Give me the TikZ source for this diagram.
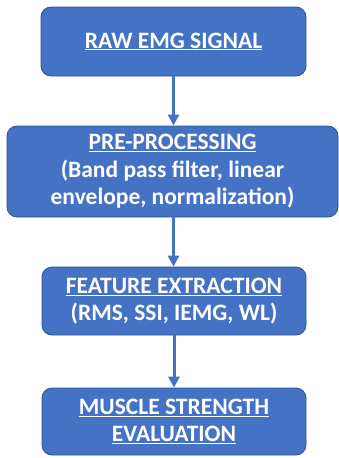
\documentclass[tikz,border=0pt]{standalone}
\usepackage{fontspec}
\setmainfont{Carlito}
\usetikzlibrary{arrows.meta}

\definecolor{boxblue}{HTML}{4472C4}
\definecolor{boxedge}{HTML}{2F528F}

\tikzstyle{stage}=[rectangle, rounded corners=10pt, draw=boxedge, line width=0.8pt, fill=boxblue, text=white, align=center, font=\fontsize{23.5}{27.5}\selectfont\bfseries, inner sep=0pt]
\tikzstyle{flow}=[draw=boxblue, line width=3pt, -{Triangle[width=11pt,length=11pt]}]

\begin{document}
\begin{tikzpicture}[x=1pt, y=-1pt]
\useasboundingbox (0,0) rectangle (339,458);

\node[stage, minimum width=265pt, minimum height=69pt](raw) at (173.5, 41.5) {\underline{RAW EMG SIGNAL}};
\node[stage, minimum width=331pt, minimum height=91pt](pre) at (172.5, 171.5) {\underline{PRE-PROCESSING}\\(Band pass filter, linear\\envelope, normalization)};
\node[stage, minimum width=264pt, minimum height=68pt](feat) at (174, 301) {\underline{FEATURE EXTRACTION}\\(RMS, SSI, IEMG, WL)};
\node[stage, minimum width=264pt, minimum height=67pt](eval) at (174, 421.5) {\underline{MUSCLE STRENGTH}\\\underline{EVALUATION}};

\begin{scope}[every path/.style={flow}]
       \draw (raw.south) -- (raw.south |- pre.north);
       \draw (raw.south |- pre.south) -- (raw.south |- feat.north);
       \draw (feat.south) -- (feat.south |- eval.north);
\end{scope}
\end{tikzpicture}
\end{document}
